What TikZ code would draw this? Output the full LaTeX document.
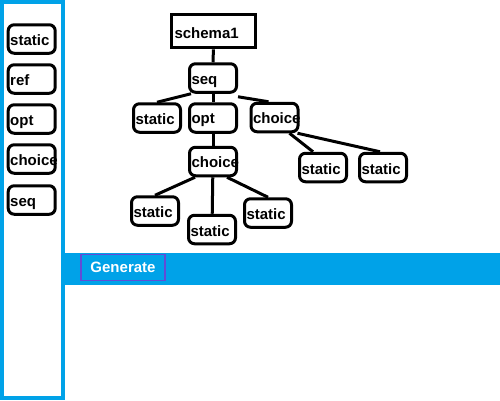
\documentclass[tikz,border=0pt]{standalone}
\usepackage{fontspec}
\setmainfont{Liberation Sans}
\definecolor{paintblue}{RGB}{0,162,232}
\definecolor{btnedge}{RGB}{98,76,214}

\begin{document}
\begin{tikzpicture}[x=1pt,y=-1pt,
        box/.style={draw, line width=3pt, rounded corners=6pt, minimum width=47pt, minimum height=28.5pt,
            inner xsep=2pt, text width=43pt, align=left, text height=13pt, text depth=0pt,
            font=\fontsize{15}{17}\selectfont\bfseries},
        wire/.style={line width=3pt}]
        \useasboundingbox (0,0) rectangle (500,400);
        % bar and left panel
        \fill[paintblue] (65,253) rectangle (500,285);
        \draw[paintblue, line width=4pt] (1.8,2) rectangle (63.3,398);
        \node[draw=btnedge, line width=1.3pt, minimum width=84pt, minimum height=26.5pt, text=white,
            font=\fontsize{15}{17}\selectfont\bfseries] (gen) at (123,267.5) {Generate};
        % palette
        \node[box] (pstatic) at (31.7,39) {static};
        \node[box] (pref) at (31.7,79) {ref};
        \node[box] (popt) at (31.7,119) {opt};
        \node[box] (pchoice) at (31.7,159) {choice};
        \node[box] (pseq) at (31.7,200) {seq};
        % tree
        \node[box, rounded corners=0pt, minimum width=84pt, minimum height=33.6pt, text width=78pt,
            inner xsep=3pt, text height=15pt] (schema) at (213.5,31) {schema1};
        \node[box] (seq) at (213,78) {seq};
        \node[box] (sta) at (157,118) {static};
        \node[box, text height=11pt] (opt) at (213,118) {opt};
        \node[box, text height=11pt] (choa) at (274.5,117.5) {choice};
        \node[box, text height=11pt] (chob) at (213,161.5) {choice};
        \node[box] (stb) at (323,167.5) {static};
        \node[box] (stc) at (383,167.5) {static};
        \node[box] (std) at (155,211) {static};
        \node[box] (ste) at (212,229.5) {static};
        \node[box] (stf) at (268,213) {static};
        \draw[wire] (schema) -- (seq);
        \draw[wire] ([xshift=3pt]seq.south west) -- (sta.north);
        \draw[wire] (seq) -- (opt);
        \draw[wire] ([yshift=-3pt]seq.south east) -- ([xshift=-6pt]choa.north);
        \draw[wire] (opt) -- (chob);
        \draw[wire] ([xshift=-10pt]choa.south east) -- ([xshift=-10pt]stb.north);
        \draw[wire] ([xshift=-2pt]choa.south east) -- ([xshift=-3pt]stc.north);
        \draw[wire] ([xshift=-18pt]chob.south) -- (std.north);
        \draw[wire] (chob) -- (ste);
        \draw[wire] ([xshift=14pt]chob.south) -- (stf.north);
    \end{tikzpicture}
\end{document}
